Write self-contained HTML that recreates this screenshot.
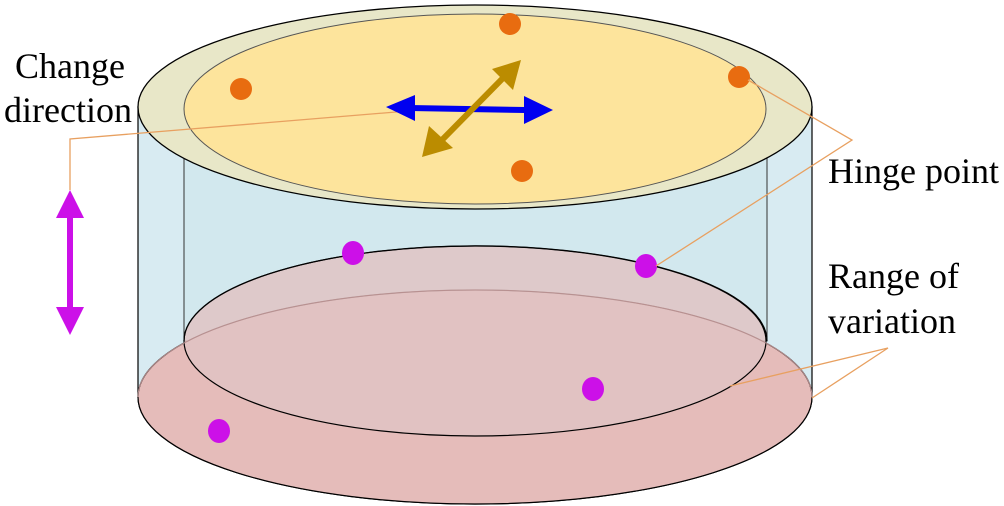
<!DOCTYPE html>
<html><head><meta charset="utf-8"><style>
html,body{margin:0;padding:0;background:#fff;}
svg{display:block;}
text{font-family:"Liberation Serif","Times New Roman",serif;font-size:36px;fill:#000;}
</style></head><body>
<svg width="1004" height="506" viewBox="0 0 1004 506" xmlns="http://www.w3.org/2000/svg">
<path d="M138 107 L138 397 A337 107 0 0 0 812 397 L812 107 Z" fill="#d8ebf2" stroke="#000" stroke-width="1.2"/>
<rect x="184" y="108" width="583" height="233" fill="#d2e8ee" stroke="#333" stroke-width="1"/>
<ellipse cx="475" cy="397" rx="337" ry="107" fill="#e5bcba" stroke="#000" stroke-width="1.2"/>
<ellipse cx="475" cy="341" rx="291" ry="95" fill="#e0c3c3" fill-opacity="0.85" stroke="#000" stroke-width="1.2"/>
<path d="M184 341 A291 95 0 0 1 767 341" fill="none" stroke="#000" stroke-width="1.2"/>
<path d="M138 397 A337 107 0 0 1 812 397" fill="none" stroke="#b89090" stroke-width="1"/>
<ellipse cx="475" cy="107" rx="337" ry="102" fill="#e8e7c8" stroke="#000" stroke-width="1.3"/>
<ellipse cx="475" cy="109" rx="291" ry="95" fill="#fde49c" stroke="#555" stroke-width="1"/>
<g fill="#e86c10">
<circle cx="510" cy="24" r="11"/><circle cx="241" cy="89" r="11"/><circle cx="739" cy="77" r="11"/><circle cx="522" cy="171" r="11"/>
</g>
<g fill="#cc10e8">
<ellipse cx="353" cy="253" rx="11" ry="12"/><ellipse cx="646" cy="266" rx="11" ry="12"/><ellipse cx="593" cy="389" rx="11" ry="12"/><ellipse cx="219" cy="431" rx="11" ry="12"/>
</g>
<g stroke="#e8a060" stroke-width="1.3" fill="none">
<polyline points="70,190 70,139 420,110"/>
<polyline points="748,80 852,140 656,266"/>
<polyline points="730,386 888,348 812,398"/>
</g>
<line x1="410" y1="108" x2="525" y2="110" stroke="#0000f0" stroke-width="6"/>
<polygon points="386,107 415,95 415,121" fill="#0000f0"/>
<polygon points="553,110 524,96 524,124" fill="#0000f0"/>
<line x1="440" y1="142" x2="506" y2="75" stroke="#bb8c00" stroke-width="6"/>
<polygon points="422,157 429,126 453,148" fill="#bb8c00"/>
<polygon points="521,60 513,90 492,69" fill="#bb8c00"/>
<line x1="70" y1="210" x2="70" y2="312" stroke="#cc10e8" stroke-width="6"/>
<polygon points="70,190 56,218 84,218" fill="#cc10e8"/>
<polygon points="70,335 56,307 84,307" fill="#cc10e8"/>
<text x="15" y="78">Change</text>
<text x="4" y="122">direction</text>
<text x="828" y="183">Hinge point</text>
<text x="828" y="288">Range of</text>
<text x="828" y="333">variation</text>
</svg>
</body></html>
